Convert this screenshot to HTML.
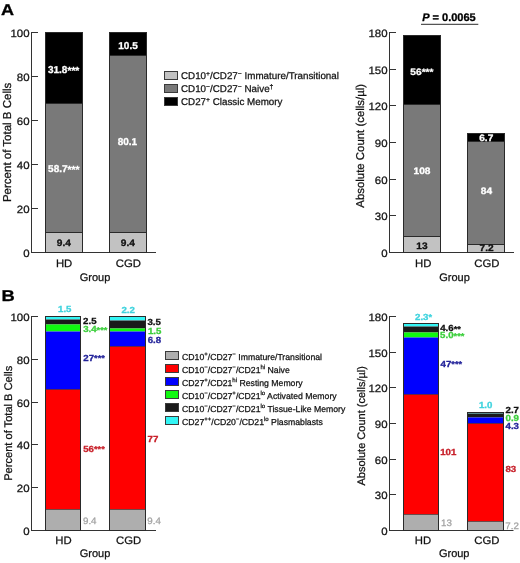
<!DOCTYPE html><html><head><meta charset="utf-8"><style>html,body{margin:0;padding:0;background:#fff;}svg{display:block;will-change:transform;filter:blur(0.45px);}text{text-rendering:geometricPrecision;font-family:"Liberation Sans", sans-serif;}</style></head><body>
<svg width="520" height="563" viewBox="0 0 520 563">
<rect width="520" height="563" fill="#fff"/>
<text transform="translate(1.00,14.50) scale(1.15,1)" font-size="15.7" text-anchor="start" font-weight="bold" fill="#000"  stroke="#000" stroke-width="0.3">A</text>
<line x1="31.5" y1="32.0" x2="31.5" y2="253" stroke="#333" stroke-width="1"/>
<line x1="31" y1="252.5" x2="156" y2="252.5" stroke="#333" stroke-width="1"/>
<text transform="translate(29.60,256.90) scale(1.08,1)" font-size="10.6" text-anchor="end" font-weight="normal" fill="#111"  stroke="#111" stroke-width="0.25">0</text>
<line x1="31" y1="208.5" x2="38" y2="208.5" stroke="#333" stroke-width="1"/>
<text transform="translate(29.60,212.90) scale(1.08,1)" font-size="10.6" text-anchor="end" font-weight="normal" fill="#111"  stroke="#111" stroke-width="0.25">20</text>
<line x1="31" y1="164.5" x2="38" y2="164.5" stroke="#333" stroke-width="1"/>
<text transform="translate(29.60,168.90) scale(1.08,1)" font-size="10.6" text-anchor="end" font-weight="normal" fill="#111"  stroke="#111" stroke-width="0.25">40</text>
<line x1="31" y1="120.5" x2="38" y2="120.5" stroke="#333" stroke-width="1"/>
<text transform="translate(29.60,124.90) scale(1.08,1)" font-size="10.6" text-anchor="end" font-weight="normal" fill="#111"  stroke="#111" stroke-width="0.25">60</text>
<line x1="31" y1="76.5" x2="38" y2="76.5" stroke="#333" stroke-width="1"/>
<text transform="translate(29.60,80.90) scale(1.08,1)" font-size="10.6" text-anchor="end" font-weight="normal" fill="#111"  stroke="#111" stroke-width="0.25">80</text>
<line x1="31" y1="32.5" x2="38" y2="32.5" stroke="#333" stroke-width="1"/>
<text transform="translate(29.60,36.90) scale(1.08,1)" font-size="10.6" text-anchor="end" font-weight="normal" fill="#111"  stroke="#111" stroke-width="0.25">100</text>
<text x="0" y="0" font-size="11.5" text-anchor="middle" fill="#111" stroke="#111" stroke-width="0.25" transform="translate(11.3,142.4) rotate(-90)">Percent of Total B Cells</text>
<rect x="45.5" y="32.5" width="37" height="71.0" fill="#000"/>
<rect x="45.5" y="103.5" width="37" height="129.0" fill="#797979"/>
<rect x="45.5" y="232.5" width="37" height="20.0" fill="#c2c2c2"/>
<line x1="45.5" y1="103.5" x2="82.5" y2="103.5" stroke="#2a2a2a" stroke-width="1"/>
<line x1="45.5" y1="232.5" x2="82.5" y2="232.5" stroke="#2a2a2a" stroke-width="1"/>
<rect x="45.5" y="32.5" width="37" height="220" fill="none" stroke="#2a2a2a" stroke-width="1"/>
<rect x="109.5" y="32.5" width="37" height="23.0" fill="#000"/>
<rect x="109.5" y="55.5" width="37" height="177.0" fill="#797979"/>
<rect x="109.5" y="232.5" width="37" height="20.0" fill="#c2c2c2"/>
<line x1="109.5" y1="55.5" x2="146.5" y2="55.5" stroke="#2a2a2a" stroke-width="1"/>
<line x1="109.5" y1="232.5" x2="146.5" y2="232.5" stroke="#2a2a2a" stroke-width="1"/>
<rect x="109.5" y="32.5" width="37" height="220" fill="none" stroke="#2a2a2a" stroke-width="1"/>
<text transform="translate(64.10,266.70) scale(1.05,1)" font-size="10.8" text-anchor="middle" font-weight="normal" fill="#111"  stroke="#111" stroke-width="0.25">HD</text>
<text transform="translate(128.30,266.70) scale(1.05,1)" font-size="10.8" text-anchor="middle" font-weight="normal" fill="#111"  stroke="#111" stroke-width="0.25">CGD</text>
<text x="95.00" y="280.80" font-size="11" text-anchor="middle" font-weight="normal" fill="#111"  stroke="#111" stroke-width="0.25">Group</text>
<rect x="164.5" y="71.5" width="13" height="8" fill="#c2c2c2" stroke="#3a3a3a" stroke-width="1"/>
<text x="181.00" y="79.20" font-size="9.8" text-anchor="start" font-weight="normal" fill="#111"  stroke="#111" stroke-width="0.25">CD10<tspan font-size="6.8" dy="-3.6">+</tspan><tspan dy="3.6">/CD27<tspan font-size="6.8" dy="-3.6">−</tspan><tspan dy="3.6"> Immature/Transitional</tspan></tspan></text>
<rect x="164.5" y="84.5" width="13" height="8" fill="#797979" stroke="#3a3a3a" stroke-width="1"/>
<text x="181.00" y="92.20" font-size="9.8" text-anchor="start" font-weight="normal" fill="#111"  stroke="#111" stroke-width="0.25">CD10<tspan font-size="6.8" dy="-3.6">−</tspan><tspan dy="3.6">/CD27<tspan font-size="6.8" dy="-3.6">−</tspan><tspan dy="3.6"> Naive<tspan font-size="6.8" dy="-3.6">†</tspan><tspan dy="3.6"></tspan></tspan></tspan></text>
<rect x="164.5" y="97.5" width="13" height="8" fill="#000" stroke="#3a3a3a" stroke-width="1"/>
<text x="181.00" y="105.20" font-size="9.8" text-anchor="start" font-weight="normal" fill="#111"  stroke="#111" stroke-width="0.25">CD27<tspan font-size="6.8" dy="-3.6">+</tspan><tspan dy="3.6"> Classic Memory</tspan></text>
<line x1="389.5" y1="32.0" x2="389.5" y2="253" stroke="#333" stroke-width="1"/>
<line x1="389" y1="252.5" x2="514" y2="252.5" stroke="#333" stroke-width="1"/>
<text transform="translate(387.60,256.90) scale(1.08,1)" font-size="10.6" text-anchor="end" font-weight="normal" fill="#111"  stroke="#111" stroke-width="0.25">0</text>
<line x1="389" y1="215.5" x2="396" y2="215.5" stroke="#333" stroke-width="1"/>
<text transform="translate(387.60,219.90) scale(1.08,1)" font-size="10.6" text-anchor="end" font-weight="normal" fill="#111"  stroke="#111" stroke-width="0.25">30</text>
<line x1="389" y1="179.5" x2="396" y2="179.5" stroke="#333" stroke-width="1"/>
<text transform="translate(387.60,183.90) scale(1.08,1)" font-size="10.6" text-anchor="end" font-weight="normal" fill="#111"  stroke="#111" stroke-width="0.25">60</text>
<line x1="389" y1="142.5" x2="396" y2="142.5" stroke="#333" stroke-width="1"/>
<text transform="translate(387.60,146.90) scale(1.08,1)" font-size="10.6" text-anchor="end" font-weight="normal" fill="#111"  stroke="#111" stroke-width="0.25">90</text>
<line x1="389" y1="105.5" x2="396" y2="105.5" stroke="#333" stroke-width="1"/>
<text transform="translate(387.60,109.90) scale(1.08,1)" font-size="10.6" text-anchor="end" font-weight="normal" fill="#111"  stroke="#111" stroke-width="0.25">120</text>
<line x1="389" y1="69.5" x2="396" y2="69.5" stroke="#333" stroke-width="1"/>
<text transform="translate(387.60,73.90) scale(1.08,1)" font-size="10.6" text-anchor="end" font-weight="normal" fill="#111"  stroke="#111" stroke-width="0.25">150</text>
<line x1="389" y1="32.5" x2="396" y2="32.5" stroke="#333" stroke-width="1"/>
<text transform="translate(387.60,36.90) scale(1.08,1)" font-size="10.6" text-anchor="end" font-weight="normal" fill="#111"  stroke="#111" stroke-width="0.25">180</text>
<text x="0" y="0" font-size="11.4" text-anchor="middle" fill="#111" stroke="#111" stroke-width="0.25" transform="translate(363.7,145.8) rotate(-90)">Absolute Count (cells/µl)</text>
<rect x="403.5" y="35.5" width="37" height="69.0" fill="#000"/>
<rect x="403.5" y="104.5" width="37" height="132.0" fill="#797979"/>
<rect x="403.5" y="236.5" width="37" height="16.0" fill="#c2c2c2"/>
<line x1="403.5" y1="104.5" x2="440.5" y2="104.5" stroke="#2a2a2a" stroke-width="1"/>
<line x1="403.5" y1="236.5" x2="440.5" y2="236.5" stroke="#2a2a2a" stroke-width="1"/>
<rect x="403.5" y="35.5" width="37" height="217" fill="none" stroke="#2a2a2a" stroke-width="1"/>
<rect x="467.5" y="133.5" width="37" height="8.0" fill="#000"/>
<rect x="467.5" y="141.5" width="37" height="103.0" fill="#797979"/>
<rect x="467.5" y="244.5" width="37" height="8.0" fill="#c2c2c2"/>
<line x1="467.5" y1="141.5" x2="504.5" y2="141.5" stroke="#2a2a2a" stroke-width="1"/>
<line x1="467.5" y1="244.5" x2="504.5" y2="244.5" stroke="#2a2a2a" stroke-width="1"/>
<rect x="467.5" y="133.5" width="37" height="119" fill="none" stroke="#2a2a2a" stroke-width="1"/>
<text transform="translate(423.30,266.70) scale(1.05,1)" font-size="10.8" text-anchor="middle" font-weight="normal" fill="#111"  stroke="#111" stroke-width="0.25">HD</text>
<text transform="translate(486.80,266.70) scale(1.05,1)" font-size="10.8" text-anchor="middle" font-weight="normal" fill="#111"  stroke="#111" stroke-width="0.25">CGD</text>
<text x="454.50" y="280.80" font-size="11" text-anchor="middle" font-weight="normal" fill="#111"  stroke="#111" stroke-width="0.25">Group</text>
<text x="422.20" y="21.00" font-size="11" text-anchor="start" font-weight="bold" fill="#000"  stroke="#000" stroke-width="0.3"><tspan font-style="italic">P</tspan> = 0.0065</text>
<line x1="421" y1="24.3" x2="478.3" y2="24.3" stroke="#555" stroke-width="1.3"/>
<text transform="translate(1.60,300.70) scale(1.17,1)" font-size="15.7" text-anchor="start" font-weight="bold" fill="#000"  stroke="#000" stroke-width="0.3">B</text>
<line x1="31.5" y1="316.0" x2="31.5" y2="531" stroke="#333" stroke-width="1"/>
<line x1="31" y1="530.5" x2="156" y2="530.5" stroke="#333" stroke-width="1"/>
<text transform="translate(29.60,534.90) scale(1.08,1)" font-size="10.6" text-anchor="end" font-weight="normal" fill="#111"  stroke="#111" stroke-width="0.25">0</text>
<line x1="31" y1="487.5" x2="38" y2="487.5" stroke="#333" stroke-width="1"/>
<text transform="translate(29.60,491.90) scale(1.08,1)" font-size="10.6" text-anchor="end" font-weight="normal" fill="#111"  stroke="#111" stroke-width="0.25">20</text>
<line x1="31" y1="444.5" x2="38" y2="444.5" stroke="#333" stroke-width="1"/>
<text transform="translate(29.60,448.90) scale(1.08,1)" font-size="10.6" text-anchor="end" font-weight="normal" fill="#111"  stroke="#111" stroke-width="0.25">40</text>
<line x1="31" y1="402.5" x2="38" y2="402.5" stroke="#333" stroke-width="1"/>
<text transform="translate(29.60,406.90) scale(1.08,1)" font-size="10.6" text-anchor="end" font-weight="normal" fill="#111"  stroke="#111" stroke-width="0.25">60</text>
<line x1="31" y1="359.5" x2="38" y2="359.5" stroke="#333" stroke-width="1"/>
<text transform="translate(29.60,363.90) scale(1.08,1)" font-size="10.6" text-anchor="end" font-weight="normal" fill="#111"  stroke="#111" stroke-width="0.25">80</text>
<line x1="31" y1="316.5" x2="38" y2="316.5" stroke="#333" stroke-width="1"/>
<text transform="translate(29.60,320.90) scale(1.08,1)" font-size="10.6" text-anchor="end" font-weight="normal" fill="#111"  stroke="#111" stroke-width="0.25">100</text>
<text x="0" y="0" font-size="11.1" text-anchor="middle" fill="#111" stroke="#111" stroke-width="0.25" transform="translate(11.5,423.3) rotate(-90)">Percent of Total B Cells</text>
<rect x="45.5" y="316.5" width="35" height="3.0" fill="#33f5f5"/>
<rect x="45.5" y="319.5" width="35" height="5.0" fill="#1a1a1a"/>
<rect x="45.5" y="324.5" width="35" height="7.0" fill="#10f810"/>
<rect x="45.5" y="331.5" width="35" height="58.0" fill="#0000ff"/>
<rect x="45.5" y="389.5" width="35" height="120.0" fill="#ff0000"/>
<rect x="45.5" y="509.5" width="35" height="21.0" fill="#aeaeae"/>
<line x1="45.5" y1="389.5" x2="80.5" y2="389.5" stroke="rgba(0,0,0,0.45)" stroke-width="1"/>
<line x1="45.5" y1="509.5" x2="80.5" y2="509.5" stroke="rgba(0,0,0,0.5)" stroke-width="1"/>
<rect x="45.5" y="316.5" width="35" height="214" fill="none" stroke="#2a2a2a" stroke-width="1"/>
<rect x="109.5" y="316.5" width="36" height="4.0" fill="#33f5f5"/>
<rect x="109.5" y="320.5" width="36" height="8.0" fill="#1a1a1a"/>
<rect x="109.5" y="328.5" width="36" height="3.0" fill="#10f810"/>
<rect x="109.5" y="331.5" width="36" height="15.0" fill="#0000ff"/>
<rect x="109.5" y="346.5" width="36" height="163.0" fill="#ff0000"/>
<rect x="109.5" y="509.5" width="36" height="21.0" fill="#aeaeae"/>
<line x1="109.5" y1="346.5" x2="145.5" y2="346.5" stroke="rgba(0,0,0,0.45)" stroke-width="1"/>
<line x1="109.5" y1="509.5" x2="145.5" y2="509.5" stroke="rgba(0,0,0,0.5)" stroke-width="1"/>
<rect x="109.5" y="316.5" width="36" height="214" fill="none" stroke="#2a2a2a" stroke-width="1"/>
<text transform="translate(63.50,543.70) scale(1.05,1)" font-size="10.8" text-anchor="middle" font-weight="normal" fill="#111"  stroke="#111" stroke-width="0.25">HD</text>
<text transform="translate(128.60,543.70) scale(1.05,1)" font-size="10.8" text-anchor="middle" font-weight="normal" fill="#111"  stroke="#111" stroke-width="0.25">CGD</text>
<text x="95.00" y="557.00" font-size="11" text-anchor="middle" font-weight="normal" fill="#111"  stroke="#111" stroke-width="0.25">Group</text>
<rect x="165.5" y="351.5" width="13" height="8" fill="#aeaeae" stroke="#3a3a3a" stroke-width="1"/>
<text x="182.00" y="359.70" font-size="8.7" text-anchor="start" font-weight="normal" fill="#111"  stroke="#111" stroke-width="0.25">CD10<tspan font-size="6" dy="-3.6">+</tspan><tspan dy="3.6">/CD27<tspan font-size="6" dy="-3.6">−</tspan><tspan dy="3.6"> Immature/Transitional</tspan></tspan></text>
<rect x="165.5" y="364.5" width="13" height="8" fill="#ff0000" stroke="#3a3a3a" stroke-width="1"/>
<text x="182.00" y="372.70" font-size="8.7" text-anchor="start" font-weight="normal" fill="#111"  stroke="#111" stroke-width="0.25">CD10<tspan font-size="6" dy="-3.6">−</tspan><tspan dy="3.6">/CD27<tspan font-size="6" dy="-3.6">−</tspan><tspan dy="3.6">/CD21<tspan font-size="6" dy="-3.6">hi</tspan><tspan dy="3.6"> Naive</tspan></tspan></tspan></text>
<rect x="165.5" y="377.5" width="13" height="8" fill="#0000ff" stroke="#3a3a3a" stroke-width="1"/>
<text x="182.00" y="385.70" font-size="8.7" text-anchor="start" font-weight="normal" fill="#111"  stroke="#111" stroke-width="0.25">CD27<tspan font-size="6" dy="-3.6">+</tspan><tspan dy="3.6">/CD21<tspan font-size="6" dy="-3.6">hi</tspan><tspan dy="3.6"> Resting Memory</tspan></tspan></text>
<rect x="165.5" y="390.5" width="13" height="8" fill="#10f810" stroke="#3a3a3a" stroke-width="1"/>
<text x="182.00" y="398.70" font-size="8.7" text-anchor="start" font-weight="normal" fill="#111"  stroke="#111" stroke-width="0.25">CD10<tspan font-size="6" dy="-3.6">−</tspan><tspan dy="3.6">/CD27<tspan font-size="6" dy="-3.6">+</tspan><tspan dy="3.6">/CD21<tspan font-size="6" dy="-3.6">lo</tspan><tspan dy="3.6"> Activated Memory</tspan></tspan></tspan></text>
<rect x="165.5" y="403.5" width="13" height="8" fill="#1a1a1a" stroke="#3a3a3a" stroke-width="1"/>
<text x="182.00" y="411.70" font-size="8.7" text-anchor="start" font-weight="normal" fill="#111"  stroke="#111" stroke-width="0.25">CD10<tspan font-size="6" dy="-3.6">−</tspan><tspan dy="3.6">/CD27<tspan font-size="6" dy="-3.6">−</tspan><tspan dy="3.6">/CD21<tspan font-size="6" dy="-3.6">lo</tspan><tspan dy="3.6"> Tissue-Like Memory</tspan></tspan></tspan></text>
<rect x="165.5" y="416.5" width="13" height="8" fill="#33f5f5" stroke="#3a3a3a" stroke-width="1"/>
<text x="182.00" y="424.70" font-size="8.7" text-anchor="start" font-weight="normal" fill="#111"  stroke="#111" stroke-width="0.25">CD27<tspan font-size="6" dy="-3.6">++</tspan><tspan dy="3.6">/CD20<tspan font-size="6" dy="-3.6">−</tspan><tspan dy="3.6">/CD21<tspan font-size="6" dy="-3.6">lo</tspan><tspan dy="3.6"> Plasmablasts</tspan></tspan></tspan></text>
<line x1="389.5" y1="316.0" x2="389.5" y2="531" stroke="#333" stroke-width="1"/>
<line x1="389" y1="530.5" x2="513.5" y2="530.5" stroke="#333" stroke-width="1"/>
<text transform="translate(387.60,534.90) scale(1.08,1)" font-size="10.6" text-anchor="end" font-weight="normal" fill="#111"  stroke="#111" stroke-width="0.25">0</text>
<line x1="389" y1="494.5" x2="396" y2="494.5" stroke="#333" stroke-width="1"/>
<text transform="translate(387.60,498.90) scale(1.08,1)" font-size="10.6" text-anchor="end" font-weight="normal" fill="#111"  stroke="#111" stroke-width="0.25">30</text>
<line x1="389" y1="459.5" x2="396" y2="459.5" stroke="#333" stroke-width="1"/>
<text transform="translate(387.60,463.90) scale(1.08,1)" font-size="10.6" text-anchor="end" font-weight="normal" fill="#111"  stroke="#111" stroke-width="0.25">60</text>
<line x1="389" y1="423.5" x2="396" y2="423.5" stroke="#333" stroke-width="1"/>
<text transform="translate(387.60,427.90) scale(1.08,1)" font-size="10.6" text-anchor="end" font-weight="normal" fill="#111"  stroke="#111" stroke-width="0.25">90</text>
<line x1="389" y1="387.5" x2="396" y2="387.5" stroke="#333" stroke-width="1"/>
<text transform="translate(387.60,391.90) scale(1.08,1)" font-size="10.6" text-anchor="end" font-weight="normal" fill="#111"  stroke="#111" stroke-width="0.25">120</text>
<line x1="389" y1="352.5" x2="396" y2="352.5" stroke="#333" stroke-width="1"/>
<text transform="translate(387.60,356.90) scale(1.08,1)" font-size="10.6" text-anchor="end" font-weight="normal" fill="#111"  stroke="#111" stroke-width="0.25">150</text>
<line x1="389" y1="316.5" x2="396" y2="316.5" stroke="#333" stroke-width="1"/>
<text transform="translate(387.60,320.90) scale(1.08,1)" font-size="10.6" text-anchor="end" font-weight="normal" fill="#111"  stroke="#111" stroke-width="0.25">180</text>
<text x="0" y="0" font-size="11" text-anchor="middle" fill="#111" stroke="#111" stroke-width="0.25" transform="translate(365,425.8) rotate(-90)">Absolute Count (cells/µl)</text>
<rect x="403.5" y="323.5" width="35" height="3.0" fill="#33f5f5"/>
<rect x="403.5" y="326.5" width="35" height="6.0" fill="#1a1a1a"/>
<rect x="403.5" y="332.5" width="35" height="5.0" fill="#10f810"/>
<rect x="403.5" y="337.5" width="35" height="57.0" fill="#0000ff"/>
<rect x="403.5" y="394.5" width="35" height="120.0" fill="#ff0000"/>
<rect x="403.5" y="514.5" width="35" height="16.0" fill="#aeaeae"/>
<line x1="403.5" y1="394.5" x2="438.5" y2="394.5" stroke="rgba(0,0,0,0.45)" stroke-width="1"/>
<line x1="403.5" y1="514.5" x2="438.5" y2="514.5" stroke="rgba(0,0,0,0.5)" stroke-width="1"/>
<rect x="403.5" y="323.5" width="35" height="207" fill="none" stroke="#2a2a2a" stroke-width="1"/>
<rect x="467.5" y="412.5" width="36" height="1.0" fill="#33f5f5"/>
<rect x="467.5" y="413.5" width="36" height="4.0" fill="#1a1a1a"/>
<rect x="467.5" y="417.5" width="36" height="0.0" fill="#10f810"/>
<rect x="467.5" y="417.5" width="36" height="6.0" fill="#0000ff"/>
<rect x="467.5" y="423.5" width="36" height="98.0" fill="#ff0000"/>
<rect x="467.5" y="521.5" width="36" height="9.0" fill="#aeaeae"/>
<line x1="467.5" y1="423.5" x2="503.5" y2="423.5" stroke="rgba(0,0,0,0.45)" stroke-width="1"/>
<line x1="467.5" y1="521.5" x2="503.5" y2="521.5" stroke="rgba(0,0,0,0.5)" stroke-width="1"/>
<rect x="467.5" y="412.5" width="36" height="118" fill="none" stroke="#2a2a2a" stroke-width="1"/>
<text transform="translate(422.90,543.70) scale(1.05,1)" font-size="10.8" text-anchor="middle" font-weight="normal" fill="#111"  stroke="#111" stroke-width="0.25">HD</text>
<text transform="translate(486.90,543.70) scale(1.05,1)" font-size="10.8" text-anchor="middle" font-weight="normal" fill="#111"  stroke="#111" stroke-width="0.25">CGD</text>
<text x="454.20" y="557.00" font-size="11" text-anchor="middle" font-weight="normal" fill="#111"  stroke="#111" stroke-width="0.25">Group</text>
<text x="63.65" y="73.00" font-size="10.0" text-anchor="middle" font-weight="bold" fill="#fff"  stroke="#fff" stroke-width="0.3">31.8<tspan font-size="10.2" dy="0.6">***</tspan></text>
<text x="63.80" y="172.00" font-size="10.0" text-anchor="middle" font-weight="bold" fill="#fff"  stroke="#fff" stroke-width="0.3">58.7<tspan font-size="10.2" dy="0.6">***</tspan></text>
<text x="128.05" y="48.50" font-size="10.0" text-anchor="middle" font-weight="bold" fill="#fff"  stroke="#fff" stroke-width="0.3">10.5</text>
<text x="127.38" y="144.90" font-size="10.0" text-anchor="middle" font-weight="bold" fill="#fff"  stroke="#fff" stroke-width="0.3">80.1</text>
<text transform="translate(63.85,246.40) scale(1.09,1)" font-size="9.3" text-anchor="middle" font-weight="bold" fill="#111"  stroke="#111" stroke-width="0.3">9.4</text>
<text transform="translate(127.85,246.40) scale(1.09,1)" font-size="9.3" text-anchor="middle" font-weight="bold" fill="#111"  stroke="#111" stroke-width="0.3">9.4</text>
<text transform="translate(421.85,74.70) scale(1.09,1)" font-size="9.3" text-anchor="middle" font-weight="bold" fill="#fff"  stroke="#fff" stroke-width="0.3">56<tspan font-size="9.2" dy="0.5">***</tspan></text>
<text transform="translate(422.05,174.30) scale(1.09,1)" font-size="9.3" text-anchor="middle" font-weight="bold" fill="#fff"  stroke="#fff" stroke-width="0.3">108</text>
<text transform="translate(422.00,249.00) scale(1.09,1)" font-size="9.3" text-anchor="middle" font-weight="bold" fill="#111"  stroke="#111" stroke-width="0.3">13</text>
<text transform="translate(486.25,140.50) scale(1.09,1)" font-size="9.3" text-anchor="middle" font-weight="bold" fill="#fff"  stroke="#fff" stroke-width="0.3">6.7</text>
<text transform="translate(486.40,194.30) scale(1.09,1)" font-size="9.3" text-anchor="middle" font-weight="bold" fill="#fff"  stroke="#fff" stroke-width="0.3">84</text>
<text transform="translate(486.60,251.30) scale(1.09,1)" font-size="9.3" text-anchor="middle" font-weight="bold" fill="#111"  stroke="#111" stroke-width="0.3">7.2</text>
<text transform="translate(64.75,312.20) scale(1.1,1)" font-size="8.8" text-anchor="middle" font-weight="bold" fill="#3fd3de"  stroke="#3fd3de" stroke-width="0.3">1.5</text>
<text transform="translate(128.20,312.70) scale(1.1,1)" font-size="8.8" text-anchor="middle" font-weight="bold" fill="#3fd3de"  stroke="#3fd3de" stroke-width="0.3">2.2</text>
<text transform="translate(89.83,324.20) scale(1.1,1)" font-size="8.8" text-anchor="middle" font-weight="bold" fill="#111"  stroke="#111" stroke-width="0.3">2.5</text>
<text transform="translate(95.28,332.00) scale(1.1,1)" font-size="8.8" text-anchor="middle" font-weight="bold" fill="#3ccf3c"  stroke="#3ccf3c" stroke-width="0.3">3.4<tspan font-size="8.4" dy="0.6">***</tspan></text>
<text transform="translate(94.05,360.50) scale(1.1,1)" font-size="8.8" text-anchor="middle" font-weight="bold" fill="#23239a"  stroke="#23239a" stroke-width="0.3">27<tspan font-size="8.4" dy="0.6">***</tspan></text>
<text transform="translate(94.00,451.60) scale(1.1,1)" font-size="8.8" text-anchor="middle" font-weight="bold" fill="#c8202a"  stroke="#c8202a" stroke-width="0.3">56<tspan font-size="8.4" dy="0.6">***</tspan></text>
<text transform="translate(89.75,523.50) scale(1.04,1)" font-size="9.4" text-anchor="middle" font-weight="normal" fill="#a2a2a2"  stroke="#a2a2a2" stroke-width="0.25">9.4</text>
<text transform="translate(154.20,325.20) scale(1.1,1)" font-size="8.8" text-anchor="middle" font-weight="bold" fill="#111"  stroke="#111" stroke-width="0.3">3.5</text>
<text transform="translate(154.60,333.80) scale(1.1,1)" font-size="8.8" text-anchor="middle" font-weight="bold" fill="#3ccf3c"  stroke="#3ccf3c" stroke-width="0.3">1.5</text>
<text transform="translate(154.45,342.50) scale(1.1,1)" font-size="8.8" text-anchor="middle" font-weight="bold" fill="#23239a"  stroke="#23239a" stroke-width="0.3">6.8</text>
<text transform="translate(153.00,441.50) scale(1.1,1)" font-size="8.8" text-anchor="middle" font-weight="bold" fill="#c8202a"  stroke="#c8202a" stroke-width="0.3">77</text>
<text transform="translate(154.15,523.70) scale(1.04,1)" font-size="9.4" text-anchor="middle" font-weight="normal" fill="#a2a2a2"  stroke="#a2a2a2" stroke-width="0.25">9.4</text>
<text transform="translate(423.55,319.50) scale(1.1,1)" font-size="8.8" text-anchor="middle" font-weight="bold" fill="#3fd3de"  stroke="#3fd3de" stroke-width="0.3">2.3<tspan font-size="8.4" dy="0.6">*</tspan></text>
<text transform="translate(450.50,330.90) scale(1.1,1)" font-size="8.8" text-anchor="middle" font-weight="bold" fill="#111"  stroke="#111" stroke-width="0.3">4.6<tspan font-size="8.4" dy="0.6">**</tspan></text>
<text transform="translate(452.20,338.30) scale(1.1,1)" font-size="8.8" text-anchor="middle" font-weight="bold" fill="#3ccf3c"  stroke="#3ccf3c" stroke-width="0.3">5.0<tspan font-size="8.4" dy="0.6">***</tspan></text>
<text transform="translate(451.35,366.70) scale(1.1,1)" font-size="8.8" text-anchor="middle" font-weight="bold" fill="#23239a"  stroke="#23239a" stroke-width="0.3">47<tspan font-size="8.4" dy="0.6">***</tspan></text>
<text transform="translate(448.30,455.20) scale(1.1,1)" font-size="8.8" text-anchor="middle" font-weight="bold" fill="#c8202a"  stroke="#c8202a" stroke-width="0.3">101</text>
<text transform="translate(446.40,526.10) scale(1.04,1)" font-size="9.4" text-anchor="middle" font-weight="normal" fill="#a2a2a2"  stroke="#a2a2a2" stroke-width="0.25">13</text>
<text transform="translate(485.65,408.40) scale(1.1,1)" font-size="8.8" text-anchor="middle" font-weight="bold" fill="#3fd3de"  stroke="#3fd3de" stroke-width="0.3">1.0</text>
<text transform="translate(512.25,413.20) scale(1.1,1)" font-size="8.8" text-anchor="middle" font-weight="bold" fill="#111"  stroke="#111" stroke-width="0.3">2.7</text>
<text transform="translate(512.25,421.20) scale(1.1,1)" font-size="8.8" text-anchor="middle" font-weight="bold" fill="#3ccf3c"  stroke="#3ccf3c" stroke-width="0.3">0.9</text>
<text transform="translate(512.25,429.30) scale(1.1,1)" font-size="8.8" text-anchor="middle" font-weight="bold" fill="#23239a"  stroke="#23239a" stroke-width="0.3">4.3</text>
<text transform="translate(510.85,472.40) scale(1.1,1)" font-size="8.8" text-anchor="middle" font-weight="bold" fill="#c8202a"  stroke="#c8202a" stroke-width="0.3">83</text>
<text transform="translate(512.15,528.50) scale(1.04,1)" font-size="9.4" text-anchor="middle" font-weight="normal" fill="#a2a2a2"  stroke="#a2a2a2" stroke-width="0.25">7.2</text>
</svg></body></html>
